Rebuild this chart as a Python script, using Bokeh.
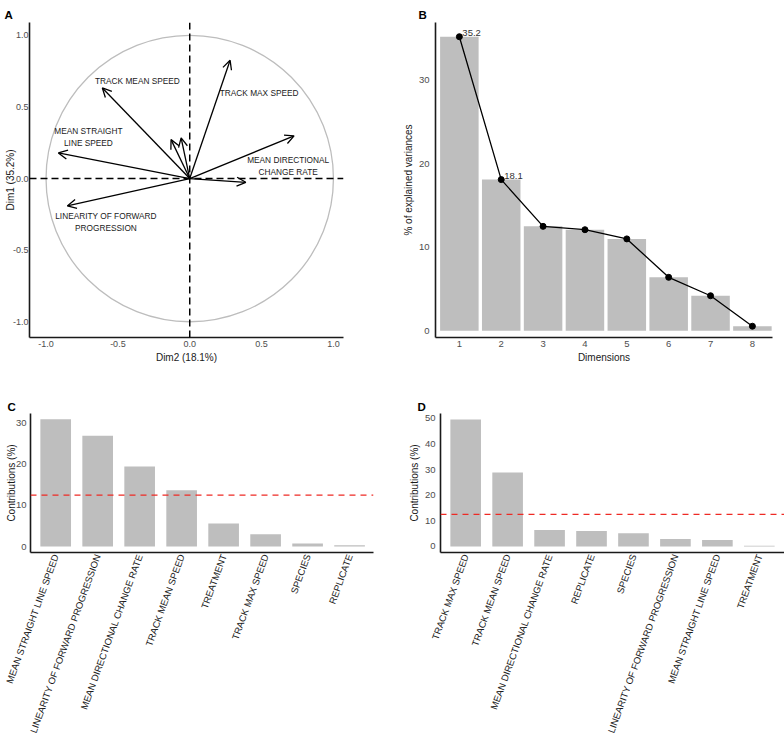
import numpy as np
from bokeh.plotting import figure
from bokeh.layouts import column, row
from bokeh.models import (Range1d, FixedTicker, Span, Arrow, OpenHead,
                          ColumnDataSource, PrintfTickFormatter)
from bokeh.core.properties import value
from bokeh.embed import file_html
from bokeh.resources import INLINE

# ---------------------------------------------------------------- data
# Variable coordinates on the correlation circle (horizontal, vertical)
variables = ["TRACK MEAN SPEED", "TRACK MAX SPEED", "MEAN STRAIGHT LINE SPEED",
             "MEAN DIRECTIONAL CHANGE RATE", "LINEARITY OF FORWARD PROGRESSION",
             "TREATMENT", "SPECIES", "REPLICATE"]
coord_h = [-0.608, 0.281, -0.914, 0.726, -0.852, 0.390, -0.130, -0.060]
coord_v = [0.633, 0.826, 0.179, 0.298, -0.191, -0.026, 0.272, 0.284]

# Variable labels (wrapped) and their offset from the arrow tip, data units
var_labels = {
    "TRACK MEAN SPEED": (["TRACK MEAN SPEED"], 0.244, 0.047),
    "TRACK MAX SPEED": (["TRACK MAX SPEED"], 0.202, -0.226),
    "MEAN STRAIGHT LINE SPEED": (["MEAN STRAIGHT", "LINE SPEED"], 0.209, 0.110),
    "MEAN DIRECTIONAL CHANGE RATE": (["MEAN DIRECTIONAL", "CHANGE RATE"], -0.041, -0.210),
    "LINEARITY OF FORWARD PROGRESSION": (["LINEARITY OF FORWARD", "PROGRESSION"], 0.269, -0.114),
}

# Scree plot
dimensions = ["1", "2", "3", "4", "5", "6", "7", "8"]
explained_var = [35.2, 18.1, 12.5, 12.1, 11.0, 6.4, 4.2, 0.55]
n_labelled = 2

# Contributions of variables to Dim1 and Dim2 (%)
contrib1_vars = ["MEAN STRAIGHT LINE SPEED", "LINEARITY OF FORWARD PROGRESSION",
                 "MEAN DIRECTIONAL CHANGE RATE", "TRACK MEAN SPEED", "TREATMENT",
                 "TRACK MAX SPEED", "SPECIES", "REPLICATE"]
contrib1 = [31.0, 27.0, 19.5, 13.7, 5.6, 3.0, 0.75, 0.3]
contrib2_vars = ["TRACK MAX SPEED", "TRACK MEAN SPEED", "MEAN DIRECTIONAL CHANGE RATE",
                 "REPLICATE", "SPECIES", "LINEARITY OF FORWARD PROGRESSION",
                 "MEAN STRAIGHT LINE SPEED", "TREATMENT"]
contrib2 = [49.6, 28.9, 6.4, 6.0, 5.2, 2.9, 2.5, 0.26]
expected_contrib = 100 / len(variables)

# ---------------------------------------------------------------- styling
FONT = "Liberation Sans"
BAR_GRAY = "#BEBEBE"
TEXT_DARK = "#1A1A1A"
TICK_GRAY = "#4D4D4D"


def base_figure(w, h, xr, yr, borders, letter, letter_dx, letter_valign):
    left, right, top, bottom = borders
    p = figure(width=w, height=h, x_range=xr, y_range=yr,
               output_backend="svg", toolbar_location=None,
               min_border_left=left, min_border_right=right,
               min_border_top=top, min_border_bottom=bottom)
    # panel letter in the top-left corner
    p.title.text = letter
    p.title.text_font = FONT
    p.title.text_font_style = "bold"
    p.title.text_font_size = "11.5px"
    p.title.text_color = "black"
    p.title.align = "left"
    p.title.offset = letter_dx
    p.title.standoff = 0
    p.title.vertical_align = letter_valign
    p.xgrid.visible = False
    p.ygrid.visible = False
    p.outline_line_color = None
    p.background_fill_color = "white"
    p.border_fill_color = "white"
    return p


def style_axes(p, tick_size, title_size, x_standoff, y_standoff, title_standoff=2):
    for ax in p.axis:
        ax.axis_line_color = TEXT_DARK
        ax.axis_line_width = 1.6
        ax.major_tick_line_color = None
        ax.minor_tick_line_color = None
        ax.major_tick_out = 0
        ax.major_tick_in = 0
        ax.major_label_text_font = FONT
        ax.major_label_text_font_size = tick_size
        ax.major_label_text_color = TICK_GRAY
        ax.axis_label_text_font = FONT
        ax.axis_label_text_font_style = "normal"
        ax.axis_label_text_font_size = title_size
        ax.axis_label_text_color = TEXT_DARK
        ax.axis_label_standoff = title_standoff
    p.xaxis.major_label_standoff = x_standoff
    p.yaxis.major_label_standoff = y_standoff


# ---------------------------------------------------------------- A: correlation circle
pa = base_figure(392, 370, Range1d(-1.115, 1.07), Range1d(-1.11, 1.09),
                 (29, 49, 22, 33), "A", -25, "top")
pa.ellipse(x=0, y=0, width=2, height=2, fill_color=None,
           line_color="#BDBDBD", line_width=1.3)
pa.add_layout(Span(location=0, dimension="height", line_color="black",
                   line_dash="7 4", line_width=1.5))
pa.add_layout(Span(location=0, dimension="width", line_color="black",
                   line_dash="7 4", line_width=1.5))
arrow_src = ColumnDataSource(dict(x0=[0.0] * len(variables), y0=[0.0] * len(variables),
                                  x1=coord_h, y1=coord_v))
pa.add_layout(Arrow(end=OpenHead(size=9, line_width=1.3, line_color="black"),
                    x_start="x0", y_start="y0", x_end="x1", y_end="y1",
                    source=arrow_src, line_width=1.3, line_color="black"))

lx, ly, ltxt, loff = [], [], [], []
for name, xh, yv in zip(variables, coord_h, coord_v):
    if name not in var_labels:
        continue
    lines, dx, dy = var_labels[name]
    n = len(lines)
    for i, line in enumerate(lines):
        lx.append(xh + dx)
        ly.append(yv + dy)
        ltxt.append(line)
        loff.append((i - (n - 1) / 2) * 12)
pa.text(x=lx, y=ly, text=ltxt, y_offset=loff, text_align="center",
        text_baseline="middle", text_font=value(FONT), text_font_size="8.3px",
        text_color=TEXT_DARK)
pa.xaxis.axis_label = "Dim2 (18.1%)"
pa.yaxis.axis_label = "Dim1 (35.2%)"
pa.xaxis.ticker = FixedTicker(ticks=[-1.0, -0.5, 0.0, 0.5, 1.0])
pa.yaxis.ticker = FixedTicker(ticks=[-1.0, -0.5, 0.0, 0.5, 1.0])
pa.xaxis.formatter = PrintfTickFormatter(format="%.1f")
pa.yaxis.formatter = PrintfTickFormatter(format="%.1f")
style_axes(pa, "9px", "10px", 3, 1, title_standoff=-6)
pa.xaxis.axis_label_standoff = 2

# ---------------------------------------------------------------- B: scree plot
dim_pos = [i + 1 for i in range(len(dimensions))]
pb = base_figure(392, 370, Range1d(0.43, 8.48), Range1d(-0.8, 36.9),
                 (43, 12, 19, 33), "B", -17, "top")
pb.vbar(x=dim_pos, top=explained_var, width=0.92, fill_color=BAR_GRAY,
        line_color=None)
pb.line(dim_pos, explained_var, line_color="black", line_width=1.3)
pb.scatter(dim_pos, explained_var, size=6, fill_color="black", line_color="black")
pb.text(x=dim_pos[:n_labelled], y=explained_var[:n_labelled],
        text=[f"{v:.1f}" for v in explained_var[:n_labelled]],
        x_offset=3, y_offset=-1, text_align="left", text_baseline="bottom",
        text_font=value(FONT), text_font_size="9.5px", text_color="#333333")
pb.xaxis.ticker = FixedTicker(ticks=dim_pos)
pb.xaxis.major_label_overrides = {p_: d for p_, d in zip(dim_pos, dimensions)}
pb.yaxis.ticker = FixedTicker(ticks=[0, 10, 20, 30])
pb.xaxis.axis_label = "Dimensions"
pb.yaxis.axis_label = "% of explained variances"
style_axes(pb, "9.5px", "10px", 3, 6)


# ---------------------------------------------------------------- C, D: contributions
def contrib_panel(names, vals, yr, yticks, borders, letter, letter_dx, letter_valign,
                  x_end, ystand, title_standoff):
    pos = [i + 1 for i in range(len(names))]
    p = base_figure(392, 371, Range1d(0.4, x_end), yr, borders, letter,
                    letter_dx, letter_valign)
    p.vbar(x=pos, top=vals, width=0.73, fill_color=BAR_GRAY, line_color=None)
    p.add_layout(Span(location=expected_contrib, dimension="width",
                      line_color="#EE2A24", line_dash="6 5", line_width=1.3))
    p.xaxis.ticker = FixedTicker(ticks=pos)
    p.xaxis.major_label_overrides = {k: n for k, n in zip(pos, names)}
    p.yaxis.ticker = FixedTicker(ticks=yticks)
    p.yaxis.axis_label = "Contributions (%)"
    style_axes(p, "9.5px", "10px", 2, ystand, title_standoff)
    p.xaxis.major_label_orientation = np.deg2rad(70)
    p.xaxis.major_label_text_color = TEXT_DARK
    p.xaxis.major_label_text_font_size = "9.5px"
    return p


pc = contrib_panel(contrib1_vars, contrib1, Range1d(-1.46, 32.4), [0, 10, 20, 30],
                   (30, 19, 43, 189), "C", -23, "middle", 8.57, 4, -4)
pd_ = contrib_panel(contrib2_vars, contrib2, Range1d(-2.35, 51.9),
                    [0, 10, 20, 30, 40, 50], (48, 0, 43, 189), "D", -23, "middle",
                    8.6, 5, 2)

layout = column(row(pa, pb), row(pc, pd_))

with open("out.html", "w") as f:
    f.write(file_html(layout, INLINE))
